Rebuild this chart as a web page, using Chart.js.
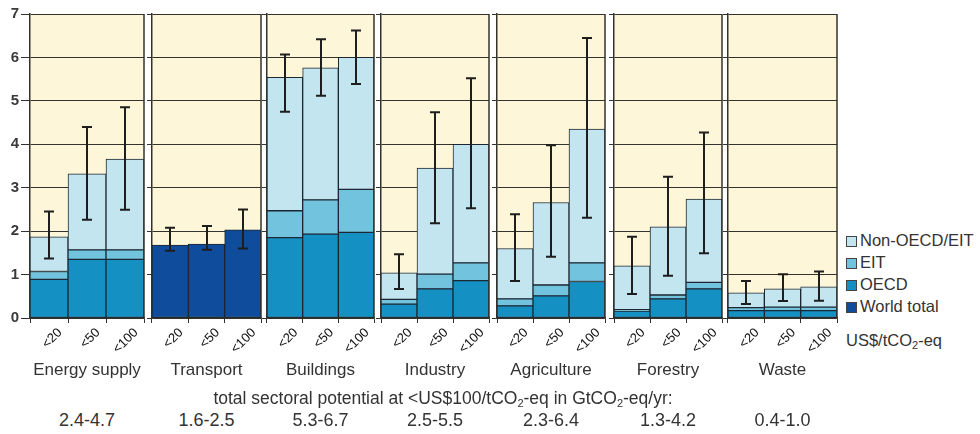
<!DOCTYPE html>
<html>
<head>
<meta charset="utf-8">
<script src="https://cdn.jsdelivr.net/npm/chart.js@4.4.1/dist/chart.umd.min.js"></script>
<style>
  body { margin: 0; background: #fff; font-family: "Liberation Sans", Arial, sans-serif; color: #333; }
  #wrap { position: relative; width: 980px; height: 434px; overflow: hidden; }
  canvas { position: absolute; top: 0; }
  .txt { position: absolute; white-space: nowrap; }
  .txt sub { font-size: 11px; line-height: 0; vertical-align: -3px; }
  .legend-row { position: absolute; left: 0; height: 22px; line-height: 22px; font-size: 16.5px; }
  .legend-row span.box { display: inline-block; width: 9px; height: 9px; border: 1px solid #444; margin-right: 3px; vertical-align: -1px; }
  #spm { position: absolute; left: 43px; top: 297px; width: 54px; height: 19px; border: 1px solid #333;
         background: #fdf6dc; font: 12px "DejaVu Sans", sans-serif; line-height: 19px; text-align: center; color: #222; }
</style>
</head>
<body>
<div id="wrap">
  <div id="spm">SPM.10</div>
</div>
<script>
// categories
const sectors = ["Energy supply", "Transport", "Buildings", "Industry", "Agriculture", "Forestry", "Waste"];
const costLabels = ["<20", "<50", "<100"];
const yTicks = [0, 1, 2, 3, 4, 5, 6, 7];

// stacked segments, GtCO2-eq/yr, one triple per sector (<20, <50, <100)
const oecd = [
  [0.89, 1.35, 1.35], [null, null, null], [1.85, 1.93, 1.97], [0.32, 0.67, 0.86],
  [0.28, 0.51, 0.84], [0.16, 0.44, 0.67], [0.17, 0.17, 0.17]
];
const eit = [
  [0.18, 0.22, 0.22], [null, null, null], [0.62, 0.79, 0.99], [0.11, 0.34, 0.41],
  [0.16, 0.25, 0.43], [0.03, 0.09, 0.15], [0.07, 0.08, 0.08]
];
const nonOecd = [
  [0.80, 1.75, 2.09], [null, null, null], [3.07, 3.04, 3.04], [0.61, 2.44, 2.73],
  [1.16, 1.90, 3.08], [1.01, 1.57, 1.92], [0.34, 0.42, 0.47]
];
const worldTotal = [
  [null, null, null], [1.68, 1.70, 2.03], [null, null, null], [null, null, null],
  [null, null, null], [null, null, null], [null, null, null]
];

// uncertainty ranges
const errLow = [
  [1.37, 2.26, 2.49], [1.55, 1.57, 1.60], [4.75, 5.12, 5.39], [0.67, 2.18, 2.53],
  [0.85, 1.41, 2.31], [0.55, 0.97, 1.49], [0.32, 0.39, 0.40]
];
const errHigh = [
  [2.45, 4.40, 4.85], [2.08, 2.12, 2.50], [6.07, 6.42, 6.62], [1.47, 4.74, 5.52],
  [2.39, 3.98, 6.45], [1.87, 3.25, 4.27], [0.85, 1.01, 1.07]
];

const totalPotential = ["2.4-4.7", "1.6-2.5", "5.3-6.7", "2.5-5.5", "2.3-6.4", "1.3-4.2", "0.4-1.0"];

const colors = {
  "Non-OECD/EIT": "#c2e5f0",
  "EIT": "#72c4de",
  "OECD": "#1590c2",
  "World total": "#0f4c9c"
};
const panelBg = "#fef6d8";
const lineColor = "#33332d";

// panel placement (left edge of plot area, width)
const panelLeft = [30, 152, 267, 381, 497, 614, 728];
const panelWidth = [114, 109, 107, 108, 108, 108, 109];
const plotTop = 14, plotBottom = 318, canvasH = 381;

const wrap = document.getElementById("wrap");

sectors.forEach((name, i) => {
  const first = i === 0;
  const yw = first ? 30 : 6;
  const canvas = document.createElement("canvas");
  canvas.width = yw + panelWidth[i] + 2;
  canvas.height = canvasH;
  canvas.style.left = (panelLeft[i] - yw) + "px";
  canvas.style.width = canvas.width + "px";
  canvas.style.height = canvasH + "px";
  wrap.appendChild(canvas);

  const panel = {
    id: "panel" + i,
    beforeDraw(chart) {
      const a = chart.chartArea, ctx = chart.ctx;
      ctx.save();
      ctx.fillStyle = panelBg;
      ctx.fillRect(a.left, a.top, a.right - a.left, a.bottom - a.top);
      ctx.restore();
    },
    afterDatasetsDraw(chart) {
      const ctx = chart.ctx, x = chart.scales.x, y = chart.scales.y;
      ctx.save();
      ctx.strokeStyle = "#1e1e1e";
      ctx.lineWidth = 2;
      costLabels.forEach((c, j) => {
        const px = Math.round(x.getPixelForValue(j));
        const top = y.getPixelForValue(errHigh[i][j]);
        const bot = y.getPixelForValue(errLow[i][j]);
        ctx.beginPath();
        ctx.moveTo(px, top); ctx.lineTo(px, bot);
        ctx.moveTo(px - 5, top); ctx.lineTo(px + 5, top);
        ctx.moveTo(px - 5, bot); ctx.lineTo(px + 5, bot);
        ctx.stroke();
      });
      const a = chart.chartArea;
      ctx.strokeStyle = lineColor;
      ctx.lineWidth = 1.5;
      ctx.beginPath();
      ctx.moveTo(a.right, a.top); ctx.lineTo(a.right, a.bottom);
      ctx.stroke();
      ctx.restore();
    }
  };

  const ds = (label, data) => ({
    label, data,
    backgroundColor: colors[label],
    borderColor: "#1c2733",
    borderWidth: 1,
    borderSkipped: false,
    barPercentage: 1,
    categoryPercentage: 1
  });

  new Chart(canvas.getContext("2d"), {
    type: "bar",
    data: {
      labels: costLabels,
      datasets: [
        ds("OECD", oecd[i]),
        ds("EIT", eit[i]),
        ds("Non-OECD/EIT", nonOecd[i]),
        ds("World total", worldTotal[i])
      ]
    },
    options: {
      responsive: false,
      animation: false,
      layout: { padding: { top: plotTop, right: 2, left: 0, bottom: 0 } },
      plugins: { legend: { display: false }, tooltip: { enabled: false } },
      scales: {
        x: {
          stacked: true,
          offset: true,
          grid: { offset: true, drawOnChartArea: false, drawTicks: true, tickLength: 5, color: lineColor },
          border: { color: lineColor, width: 1.5 },
          ticks: {
            autoSkip: false, minRotation: 45, maxRotation: 45, labelOffset: 11, padding: 2,
            font: { family: "Liberation Sans", size: 13 }, color: "#111"
          },
          title: {
            display: true, text: name, color: "#333",
            font: { family: "Liberation Sans", size: 17 }, padding: { top: 0, bottom: 0 }
          },
          afterFit: s => { s.height = canvasH - plotBottom; }
        },
        y: {
          stacked: true,
          min: 0, max: 7,
          afterBuildTicks: s => { s.ticks = yTicks.map(v => ({ value: v })); },
          grid: { color: lineColor, lineWidth: 1, drawTicks: true, tickLength: first ? 9 : 5 },
          border: { color: lineColor, width: 1.5 },
          ticks: {
            display: first, padding: 2,
            font: { family: "Liberation Sans", size: 15, weight: "bold" }, color: "#3a3a3a"
          },
          afterFit: s => { s.width = yw; }
        }
      }
    },
    plugins: [panel]
  });

  const tot = document.createElement("div");
  tot.className = "txt";
  tot.style.cssText = `left:${panelLeft[i] + panelWidth[i] / 2}px;top:410px;font-size:18px;transform:translateX(-50%);`;
  tot.textContent = totalPotential[i];
  wrap.appendChild(tot);
});

// caption
const cap = document.createElement("div");
cap.className = "txt";
cap.style.cssText = "left:443px;top:388px;font-size:17.5px;transform:translateX(-50%);";
cap.innerHTML = "total sectoral potential at &lt;US$100/tCO<sub>2</sub>-eq in GtCO<sub>2</sub>-eq/yr:";
wrap.appendChild(cap);

// legend
const legendOrder = ["Non-OECD/EIT", "EIT", "OECD", "World total"];
const leg = document.createElement("div");
leg.style.cssText = "position:absolute;left:846px;top:229px;width:134px;height:100px;";
legendOrder.forEach((label, k) => {
  const row = document.createElement("div");
  row.className = "legend-row";
  row.style.top = (k * 22) + "px";
  row.innerHTML = `<span class="box" style="background:${colors[label]}"></span>${label}`;
  leg.appendChild(row);
});
wrap.appendChild(leg);

const unit = document.createElement("div");
unit.className = "txt";
unit.style.cssText = "left:846px;top:331px;font-size:16.5px;";
unit.innerHTML = "US$/tCO<sub>2</sub>-eq";
wrap.appendChild(unit);
</script>
</body>
</html>
